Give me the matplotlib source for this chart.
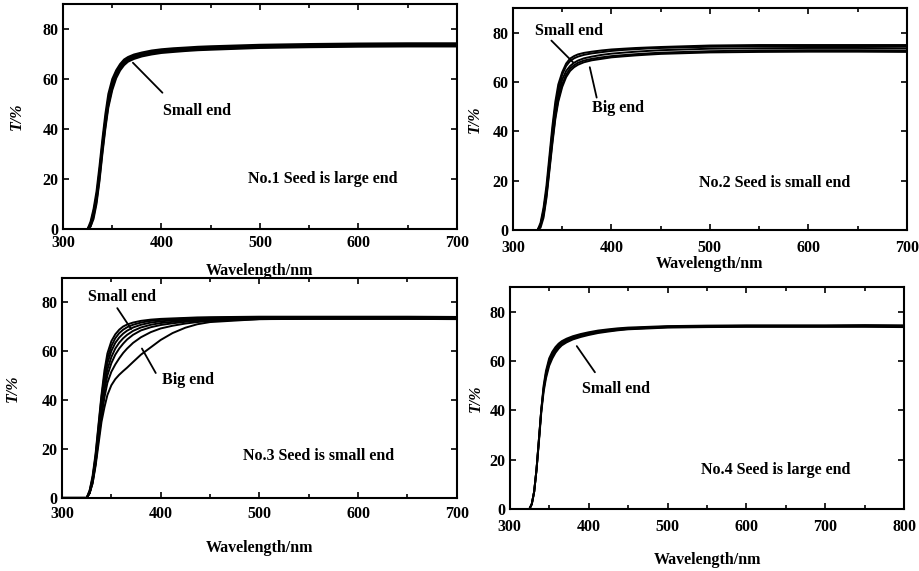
import matplotlib
matplotlib.use("Agg")
import matplotlib.pyplot as plt
from matplotlib.ticker import MultipleLocator

plt.rcParams['font.family'] = ['Liberation Serif', 'DejaVu Serif']
plt.rcParams['font.weight'] = 'bold'
plt.rcParams['axes.labelweight'] = 'bold'
plt.rcParams['font.size'] = 11.5

# wavelength grid (nm) shared by panels 1-3, panel 4 goes on to 800
wl = [300, 325, 328, 331, 334, 337, 340, 343, 346, 350, 354, 358, 362, 366,
      372, 380, 390, 400, 412, 425, 437, 450, 500, 550, 600, 650, 700]
wl4 = wl + [750, 800]

# transmittance curves, T/%
p1 = [
    [0, 0, 3, 8, 15, 25, 36, 46, 54, 60, 63.5, 66, 67.8, 68.8, 69.8, 70.6, 71.4, 71.9, 72.3, 72.6, 72.9, 73.1, 73.7, 74, 74.2, 74.3, 74.3],
    [0, 0, 2, 7, 13, 23, 34, 44, 52, 58.5, 62.5, 65.3, 67.2, 68.3, 69.3, 70.2, 71, 71.5, 71.9, 72.2, 72.5, 72.7, 73.3, 73.6, 73.8, 73.9, 73.9],
    [0, 0, 2, 6, 12, 22, 33, 43, 51, 57.5, 61.7, 64.7, 66.6, 67.8, 68.8, 69.8, 70.6, 71.1, 71.5, 71.8, 72.1, 72.3, 73, 73.3, 73.5, 73.6, 73.6],
    [0, 0, 1, 5, 11, 20, 31, 41, 49.5, 56.5, 61, 64, 66, 67.3, 68.4, 69.4, 70.2, 70.8, 71.2, 71.5, 71.8, 72, 72.7, 73, 73.2, 73.3, 73.3],
    [0, 0, 1, 4, 10, 19, 30, 40, 48.5, 55.5, 60.3, 63.4, 65.5, 66.9, 68, 69, 69.8, 70.4, 70.8, 71.2, 71.5, 71.7, 72.4, 72.7, 72.9, 73, 73],
]
p2 = [
    [0, 0, 3, 9, 18, 30, 42, 52, 59, 64, 67.5, 69.5, 70.5, 71.2, 71.8, 72.3, 72.8, 73.2, 73.5, 73.8, 74, 74.2, 74.8, 75, 75, 75, 75],
    [0, 0, 2, 8, 16, 28, 40, 50, 57, 63, 66.5, 68.5, 69.6, 70.3, 71, 71.6, 72.1, 72.6, 73, 73.3, 73.6, 73.8, 74.3, 74.5, 74.5, 74.5, 74.5],
    [0, 0, 2, 7, 15, 26, 38, 48, 55, 61, 64.5, 66.5, 67.8, 68.7, 69.6, 70.3, 71, 71.5, 71.9, 72.3, 72.6, 72.9, 73.5, 73.7, 73.8, 73.8, 73.7],
    [0, 0, 2, 6, 14, 25, 36, 46, 53, 59, 63, 65.5, 66.8, 67.8, 68.7, 69.4, 70, 70.5, 70.9, 71.3, 71.6, 71.9, 72.5, 72.8, 72.9, 72.9, 72.8],
    [0, 0, 1, 5, 13, 24, 35, 45, 52, 58, 62, 64.5, 66, 67, 68, 68.8, 69.4, 70, 70.4, 70.8, 71.1, 71.4, 72, 72.2, 72.3, 72.3, 72.2],
]
p3 = [
    [0, 0, 3, 9, 18, 30, 42, 52, 59, 64, 66.8, 68.7, 70, 70.8, 71.6, 72.3, 72.8, 73.1, 73.3, 73.5, 73.7, 73.8, 74, 74, 74, 74, 73.9],
    [0, 0, 3, 8, 17, 29, 41, 50, 57, 62, 65.2, 67.3, 68.7, 69.7, 70.7, 71.6, 72.3, 72.7, 73, 73.2, 73.4, 73.5, 73.8, 73.8, 73.8, 73.8, 73.7],
    [0, 0, 2, 8, 16, 27, 39, 48, 55, 60, 63.3, 65.5, 67.1, 68.3, 69.6, 70.7, 71.6, 72.1, 72.5, 72.8, 73, 73.2, 73.6, 73.6, 73.6, 73.6, 73.5],
    [0, 0, 2, 7, 15, 26, 37, 46, 52.5, 57.5, 61, 63.4, 65.2, 66.6, 68.2, 69.6, 70.7, 71.4, 71.9, 72.4, 72.7, 72.9, 73.4, 73.5, 73.5, 73.5, 73.4],
    [0, 0, 2, 7, 14, 25, 35, 44, 50, 55, 58.5, 61, 63, 64.7, 66.6, 68.4, 69.7, 70.6, 71.3, 71.9, 72.3, 72.6, 73.2, 73.3, 73.3, 73.3, 73.2],
    [0, 0, 2, 6, 14, 24, 33, 41, 47, 51.5, 54.5, 57, 59.2, 61, 63.3, 65.6, 67.7, 69.2, 70.3, 71.2, 71.8, 72.3, 73, 73.2, 73.2, 73.2, 73.1],
    [0, 0, 2, 6, 13, 22, 31, 37, 42, 46, 48.5, 50.3, 51.8, 53.2, 55.5, 58.5, 61.5, 64.5, 67.3, 69.5, 70.9, 71.8, 73, 73.1, 73.1, 73.1, 73],
]
p4 = [
    [0, 0, 2, 7, 16, 28, 40, 50, 56, 61, 63.7, 65.6, 67, 68, 69, 70, 70.9, 71.6, 72.3, 72.8, 73.2, 73.5, 74.1, 74.3, 74.4, 74.4, 74.4, 74.5, 74.4],
    [0, 0, 2, 7, 16, 28, 40, 49, 55, 60, 62.7, 64.8, 66.3, 67.4, 68.5, 69.5, 70.5, 71.2, 71.9, 72.5, 72.9, 73.2, 73.9, 74.1, 74.2, 74.2, 74.2, 74.3, 74.2],
    [0, 0, 2, 7, 16, 28, 40, 48.5, 54, 59, 61.8, 64, 65.6, 66.8, 68, 69.1, 70.1, 70.8, 71.6, 72.2, 72.6, 73, 73.7, 73.9, 74, 74, 74, 74.1, 74],
    [0, 0, 2, 7, 16, 27, 39, 47.5, 53, 58, 61, 63.3, 65, 66.3, 67.5, 68.7, 69.7, 70.5, 71.3, 71.9, 72.4, 72.8, 73.5, 73.7, 73.8, 73.8, 73.8, 73.8, 73.7],
]

captions = ["No.1 Seed is large end", "No.2 Seed is small end",
            "No.3 Seed is small end", "No.4 Seed is large end"]
xmax = [700, 700, 700, 800]

# label text, text anchor (x, T), line start, line end
notes = [
    [("Small end", (402, 47), (401, 54.5), (371, 66.5))],
    [("Small end", (322, 80.5), (339, 76.8), (361, 68)),
     ("Big end", (380, 49.3), (385, 53.7), (378, 66))],
    [("Small end", (326, 82), (356, 77.5), (370, 69)),
     ("Big end", (401, 48), (395, 51), (381, 61))],
    [("Small end", (391, 48.6), (408, 55.4), (385, 66))],
]
caption_pos = [(488, 20), (489, 19), (483, 17), (543, 15.7)]

fig = plt.figure(figsize=(9.2, 5.71), dpi=100)
rects = [
    (0.0685, 0.599, 0.428, 0.394),
    (0.5576, 0.597, 0.428, 0.389),
    (0.0674, 0.128, 0.429, 0.386),
    (0.554, 0.1086, 0.429, 0.389),
]
tick_pad = [4.5, 7, 6, 7.5]
xlab_y = [-0.151, -0.118, -0.19, -0.194]
ylab_x = [-0.117, -0.096, -0.124, -0.086]

for i, curves in enumerate([p1, p2, p3, p4]):
    ax = fig.add_axes(rects[i])
    x = wl4 if i == 3 else wl
    for c in curves:
        ax.plot(x, c, color='black', lw=1.4)
    ax.set_xlim(300, xmax[i])
    ax.set_ylim(0, 90)
    ax.set_xticks(range(300, xmax[i] + 1, 100))
    ax.set_yticks([0, 20, 40, 60, 80])
    ax.xaxis.set_minor_locator(MultipleLocator(50))
    ax.tick_params(which='both', direction='in', top=True, right=True)
    ax.tick_params(which='major', length=4, width=1.2)
    ax.tick_params(which='minor', length=3, width=1.2)
    ax.tick_params(axis='x', pad=tick_pad[i])
    ax.tick_params(axis='y', pad=3)
    for s in ax.spines.values():
        s.set_linewidth(1.5)
    ax.set_xlabel("Wavelength/nm", va='top')
    ax.xaxis.set_label_coords(0.5, xlab_y[i])
    ax.set_ylabel("T/%", style='italic', va='center')
    ax.yaxis.set_label_coords(ylab_x[i], 0.5)
    for txt, tpos, a, b in notes[i]:
        ax.text(tpos[0], tpos[1], txt, va='center', ha='left')
        ax.annotate('', xy=b, xytext=a,
                    arrowprops=dict(arrowstyle='-', color='black', lw=1.3,
                                    shrinkA=0, shrinkB=0))
    ax.text(caption_pos[i][0], caption_pos[i][1], captions[i], va='center', ha='left')

fig.savefig("out.png", dpi=100)
